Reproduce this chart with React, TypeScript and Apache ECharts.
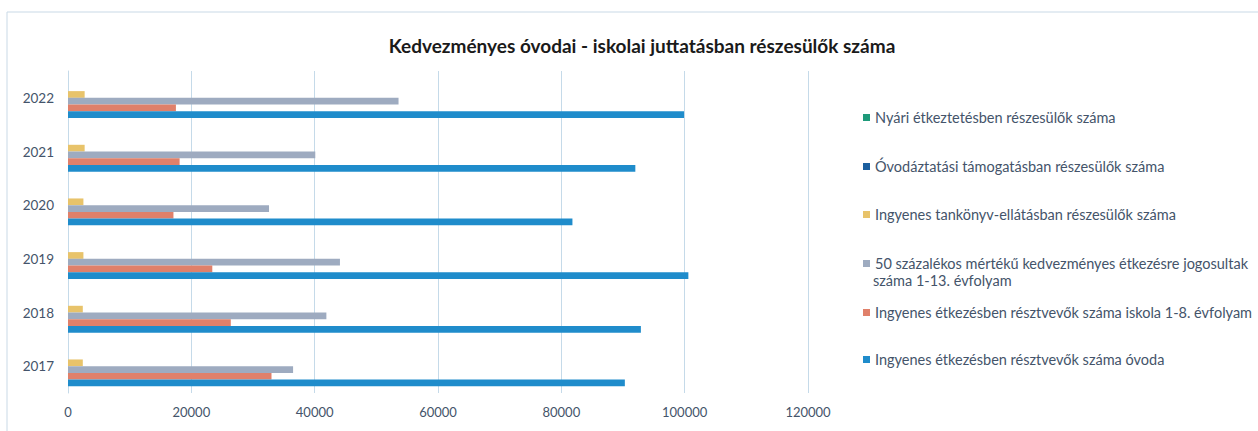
import React, { useEffect, useRef } from "react";
import * as echarts from "echarts";

const years = ["2017", "2018", "2019", "2020", "2021", "2022"];
// listed top-to-bottom within each year group (and in the legend)
const seriesNames = [
  "Nyári étkeztetésben részesülők száma",
  "Óvodáztatási támogatásban részesülők száma",
  "Ingyenes tankönyv-ellátásban részesülők száma",
  "50 százalékos mértékű kedvezményes étkezésre jogosultak száma 1-13. évfolyam",
  "Ingyenes étkezésben résztvevők száma iskola 1-8. évfolyam",
  "Ingyenes étkezésben résztvevők száma óvoda",
];
const nyari = [0, 0, 0, 0, 0, 0];
const ovodaztatasi = [0, 0, 0, 0, 0, 0];
const tankonyv = [2400, 2400, 2500, 2500, 2700, 2700];
const szazalek50 = [36500, 41900, 44100, 32600, 40100, 53600];
const iskola = [33000, 26400, 23400, 17100, 18100, 17500];
const ovoda = [90300, 92900, 100600, 81800, 92000, 99900];
const xTicks = [0, 20000, 40000, 60000, 80000, 100000, 120000];

const colors = ["#1e9a7a", "#1c5f9f", "#e8c36a", "#9eabc0", "#e0806a", "#1f8ccb"];
const legendTops = [117, 166, 214, 263, 312, 359];

export default function App() {
  const ref = useRef<HTMLDivElement>(null);
  useEffect(() => {
    if (!ref.current) return;
    const chart = echarts.init(ref.current, null, { renderer: "svg" });
    const values = [nyari, ovodaztatasi, tankonyv, szazalek50, iskola, ovoda];
    const font = "Lato, 'Open Sans', sans-serif";
    chart.setOption({
      animation: false,
      backgroundColor: "#ffffff",
      title: {
        text: "Kedvezményes óvodai - iskolai juttatásban részesülők száma",
        left: 637,
        textAlign: "center",
        top: 31,
        textStyle: { fontFamily: font, fontSize: 19, fontWeight: "bold", color: "#1a1a1a" },
      },
      legend: seriesNames.map((n, i) => ({
        data: [n],
        orient: "vertical",
        left: 858,
        top: legendTops[i] - 12,
        itemWidth: 7,
        itemHeight: 7,
        itemGap: 0,
        icon: "rect",
        selectedMode: false,
        formatter: (name: string) =>
          name.startsWith("50 ") ? "50 százalékos mértékű kedvezményes étkezésre jogosultak" : name,
        textStyle: { fontFamily: font, fontSize: 14.5, color: "#44546a" },
      })),
      graphic: [
        {
          type: "rect",
          shape: { x: 7, y: 12, width: 1260, height: 440 },
          style: { fill: "none", stroke: "#c9d9e6", lineWidth: 1 },
        },
        {
          type: "text",
          x: 873,
          y: 273,
          style: {
            text: "száma 1-13. évfolyam",
            fontFamily: font,
            fontSize: 14.5,
            fill: "#44546a",
          },
        },
      ],
      grid: { left: 68, right: 450, top: 71, bottom: 38 },
      xAxis: {
        type: "value",
        min: xTicks[0],
        max: xTicks[xTicks.length - 1],
        interval: xTicks[1] - xTicks[0],
        axisLine: { show: false },
        axisTick: { show: false },
        axisLabel: {
          fontFamily: font,
          fontSize: 13,
          color: "#44546a",
          margin: 12,
          formatter: (v: number) => String(v),
        },
        splitLine: { show: true, lineStyle: { color: "#c5dae9", width: 1 } },
      },
      yAxis: {
        type: "category",
        data: years,
        axisLine: { show: true, lineStyle: { color: "#c5dae9" } },
        axisTick: { show: false },
        axisLabel: { fontFamily: font, fontSize: 13.5, color: "#44546a", margin: 14 },
      },
      series: seriesNames.map((n, i) => ({
        name: n,
        type: "bar",
        data: values[i],
        barGap: "0%",
        barCategoryGap: "25%",
        itemStyle: { color: colors[i] },
      })),
    });
    return () => chart.dispose();
  }, []);
  return (
    <div
      ref={ref}
      style={{ position: "fixed", left: 0, top: 0, width: 1258, height: 431 }}
    />
  );
}
